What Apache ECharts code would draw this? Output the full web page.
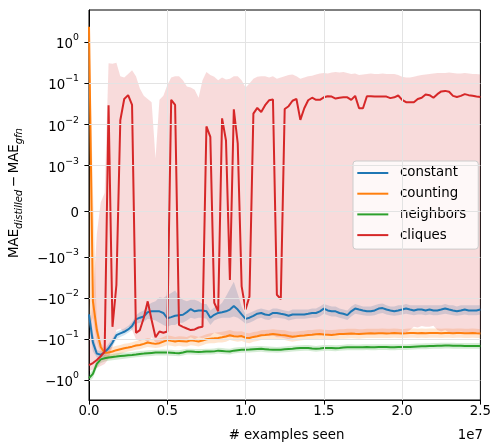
<!DOCTYPE html>
<html><head><meta charset="utf-8">
<script src="https://cdn.jsdelivr.net/npm/echarts@6/dist/echarts.min.js"></script>
<style>html,body{margin:0;padding:0;background:#fff}#c{width:494px;height:442px}</style>
</head><body><div id="c"></div>
<script>
// x: examples seen, in millions
const examplesSeenM = [
0,0.25,0.5,0.75,1,1.25,1.5,1.75,2,2.25,2.5,2.75,3,3.25,3.5,3.75,4,4.25,4.5,4.75,
5,5.25,5.5,5.75,6,6.25,6.5,6.75,7,7.25,7.5,7.75,8,8.25,8.5,8.75,9,9.25,9.5,9.75,
10,10.25,10.5,10.75,11,11.25,11.5,11.75,12,12.25,12.5,12.75,13,13.25,13.5,13.75,14,14.25,14.5,14.75,
15,15.25,15.5,15.75,16,16.25,16.5,16.75,17,17.25,17.5,17.75,18,18.25,18.5,18.75,19,19.25,19.5,19.75,
20,20.25,20.5,20.75,21,21.25,21.5,21.75,22,22.25,22.5,22.75,23,23.25,23.5,23.75,24,24.25,24.5,24.75,25];

const constant = [
-0.025,-0.12,-0.225,-0.24,-0.21,-0.166,-0.12,-0.08,-0.072,-0.066,
-0.058,-0.048,-0.033,-0.03,-0.028,-0.022,-0.021,-0.021,-0.021,-0.023,
-0.031,-0.029,-0.027,-0.026,-0.0255,-0.022,-0.0185,-0.021,-0.02,-0.02,
-0.021,-0.03,-0.0255,-0.023,-0.022,-0.021,-0.019,-0.0155,-0.019,-0.025,
-0.032,-0.03,-0.027,-0.024,-0.023,-0.025,-0.026,-0.023,-0.023,-0.024,
-0.025,-0.027,-0.025,-0.025,-0.025,-0.025,-0.024,-0.023,-0.023,-0.021,
-0.018,-0.02,-0.021,-0.021,-0.023,-0.024,-0.026,-0.021,-0.018,-0.019,
-0.02,-0.021,-0.021,-0.02,-0.018,-0.0175,-0.019,-0.02,-0.021,-0.02,
-0.019,-0.018,-0.019,-0.02,-0.019,-0.019,-0.02,-0.019,-0.02,-0.02,
-0.019,-0.018,-0.019,-0.02,-0.021,-0.02,-0.019,-0.02,-0.02,-0.02,
-0.019];
const constantHi = [
-0.012,-0.07,-0.18,-0.2,-0.17,-0.13,-0.095,-0.066,-0.06,-0.055,
-0.048,-0.038,-0.026,-0.022,-0.02,-0.015,-0.013,-0.012,-0.0095,-0.01,
-0.0085,-0.0075,-0.0065,-0.009,-0.011,-0.012,-0.011,-0.011,-0.012,-0.014,
-0.014,-0.02,-0.017,-0.016,-0.013,-0.009,-0.006,-0.004,-0.008,-0.016,
-0.025,-0.023,-0.021,-0.019,-0.018,-0.019,-0.02,-0.018,-0.018,-0.019,
-0.02,-0.021,-0.019,-0.019,-0.019,-0.019,-0.019,-0.018,-0.018,-0.016,
-0.014,-0.015,-0.016,-0.016,-0.018,-0.019,-0.02,-0.016,-0.014,-0.015,
-0.016,-0.016,-0.016,-0.015,-0.014,-0.0135,-0.015,-0.016,-0.016,-0.015,
-0.015,-0.014,-0.015,-0.015,-0.015,-0.015,-0.015,-0.015,-0.015,-0.015,
-0.015,-0.014,-0.015,-0.015,-0.016,-0.015,-0.015,-0.015,-0.015,-0.015,
-0.015];
const constantLo = [
-0.045,-0.2,-0.28,-0.29,-0.26,-0.21,-0.15,-0.1,-0.088,-0.08,
-0.07,-0.06,-0.042,-0.04,-0.038,-0.032,-0.033,-0.035,-0.04,-0.045,
-0.05,-0.045,-0.045,-0.04,-0.04,-0.035,-0.03,-0.032,-0.03,-0.03,
-0.032,-0.045,-0.035,-0.032,-0.03,-0.03,-0.03,-0.028,-0.03,-0.035,
-0.042,-0.04,-0.036,-0.032,-0.03,-0.033,-0.034,-0.03,-0.03,-0.031,
-0.032,-0.035,-0.033,-0.032,-0.032,-0.032,-0.031,-0.03,-0.03,-0.028,
-0.024,-0.026,-0.028,-0.028,-0.03,-0.032,-0.034,-0.028,-0.024,-0.025,
-0.026,-0.027,-0.027,-0.026,-0.024,-0.023,-0.025,-0.026,-0.027,-0.026,
-0.025,-0.024,-0.025,-0.026,-0.025,-0.025,-0.026,-0.025,-0.026,-0.026,
-0.025,-0.024,-0.025,-0.026,-0.027,-0.026,-0.025,-0.026,-0.026,-0.026,
-0.025];

const counting = [
2.4,-0.012,-0.06,-0.155,-0.215,-0.21,-0.2,-0.185,-0.175,-0.166,
-0.16,-0.152,-0.142,-0.138,-0.13,-0.12,-0.125,-0.13,-0.125,-0.115,
-0.105,-0.11,-0.114,-0.11,-0.112,-0.114,-0.106,-0.11,-0.114,-0.108,
-0.1,-0.097,-0.095,-0.093,-0.09,-0.086,-0.08,-0.085,-0.086,-0.084,
-0.092,-0.094,-0.088,-0.085,-0.08,-0.079,-0.077,-0.075,-0.077,-0.079,
-0.08,-0.084,-0.087,-0.085,-0.083,-0.081,-0.079,-0.078,-0.076,-0.075,
-0.077,-0.078,-0.079,-0.077,-0.075,-0.075,-0.074,-0.073,-0.074,-0.075,
-0.074,-0.073,-0.072,-0.073,-0.072,-0.072,-0.073,-0.072,-0.071,-0.072,
-0.073,-0.072,-0.071,-0.071,-0.072,-0.071,-0.072,-0.071,-0.071,-0.071,
-0.072,-0.071,-0.071,-0.072,-0.071,-0.071,-0.072,-0.072,-0.071,-0.072,
-0.073];
const countingHi = [
5,0.0005,-0.035,-0.12,-0.17,-0.165,-0.155,-0.145,-0.138,-0.13,
-0.125,-0.118,-0.11,-0.105,-0.1,-0.093,-0.098,-0.1,-0.096,-0.088,
-0.08,-0.084,-0.088,-0.085,-0.086,-0.088,-0.08,-0.083,-0.088,-0.082,
-0.076,-0.072,-0.07,-0.068,-0.066,-0.063,-0.06,-0.064,-0.065,-0.064,
-0.07,-0.072,-0.067,-0.065,-0.061,-0.06,-0.059,-0.057,-0.059,-0.06,
-0.061,-0.064,-0.066,-0.065,-0.063,-0.062,-0.06,-0.06,-0.058,-0.057,
-0.059,-0.06,-0.06,-0.059,-0.057,-0.057,-0.056,-0.056,-0.056,-0.057,
-0.057,-0.056,-0.056,-0.056,-0.056,-0.055,-0.056,-0.056,-0.055,-0.056,
-0.057,-0.056,-0.055,-0.055,-0.056,-0.055,-0.056,-0.055,-0.055,-0.055,
-0.056,-0.055,-0.055,-0.056,-0.055,-0.055,-0.056,-0.056,-0.055,-0.056,
-0.057];
const countingLo = [
-0.05,-0.03,-0.12,-0.22,-0.27,-0.3,-0.3,-0.26,-0.23,-0.21,
-0.2,-0.19,-0.18,-0.175,-0.165,-0.155,-0.16,-0.165,-0.16,-0.15,
-0.14,-0.145,-0.15,-0.145,-0.15,-0.15,-0.14,-0.145,-0.15,-0.14,
-0.13,-0.125,-0.125,-0.12,-0.12,-0.115,-0.105,-0.11,-0.115,-0.11,
-0.12,-0.125,-0.115,-0.11,-0.105,-0.105,-0.1,-0.1,-0.1,-0.105,
-0.105,-0.11,-0.115,-0.11,-0.108,-0.105,-0.103,-0.1,-0.1,-0.097,
-0.1,-0.1,-0.1,-0.1,-0.097,-0.097,-0.096,-0.095,-0.096,-0.097,
-0.095,-0.094,-0.093,-0.094,-0.093,-0.093,-0.094,-0.093,-0.092,-0.093,
-0.094,-0.093,-0.092,-0.092,-0.093,-0.092,-0.093,-0.092,-0.092,-0.092,
-0.093,-0.092,-0.092,-0.093,-0.092,-0.092,-0.093,-0.093,-0.092,-0.093,
-0.094];

const neighbors = [
-0.89,-0.7,-0.4,-0.31,-0.29,-0.28,-0.272,-0.265,-0.258,-0.252,
-0.247,-0.242,-0.235,-0.228,-0.224,-0.22,-0.216,-0.212,-0.212,-0.21,
-0.212,-0.214,-0.218,-0.22,-0.21,-0.2,-0.2,-0.203,-0.204,-0.203,
-0.2,-0.2,-0.198,-0.19,-0.193,-0.198,-0.2,-0.19,-0.185,-0.182,
-0.18,-0.178,-0.175,-0.173,-0.172,-0.175,-0.178,-0.18,-0.182,-0.18,
-0.176,-0.173,-0.17,-0.167,-0.165,-0.163,-0.163,-0.168,-0.172,-0.168,
-0.164,-0.163,-0.164,-0.166,-0.163,-0.16,-0.157,-0.157,-0.158,-0.158,
-0.157,-0.156,-0.157,-0.157,-0.156,-0.155,-0.156,-0.157,-0.157,-0.156,
-0.155,-0.155,-0.154,-0.152,-0.15,-0.149,-0.148,-0.147,-0.146,-0.145,
-0.144,-0.143,-0.143,-0.144,-0.145,-0.145,-0.146,-0.146,-0.146,-0.146,
-0.146];
const neighborsHi = [
-0.72,-0.55,-0.33,-0.26,-0.245,-0.235,-0.228,-0.22,-0.215,-0.21,
-0.21,-0.206,-0.2,-0.194,-0.19,-0.187,-0.184,-0.18,-0.18,-0.179,
-0.18,-0.182,-0.185,-0.187,-0.179,-0.17,-0.17,-0.173,-0.173,-0.173,
-0.17,-0.17,-0.168,-0.162,-0.164,-0.168,-0.17,-0.162,-0.157,-0.155,
-0.153,-0.151,-0.149,-0.147,-0.146,-0.149,-0.151,-0.153,-0.155,-0.153,
-0.15,-0.147,-0.145,-0.142,-0.14,-0.139,-0.139,-0.143,-0.146,-0.143,
-0.139,-0.139,-0.139,-0.141,-0.139,-0.136,-0.133,-0.133,-0.134,-0.134,
-0.133,-0.133,-0.133,-0.133,-0.133,-0.132,-0.133,-0.133,-0.133,-0.133,
-0.132,-0.132,-0.131,-0.129,-0.128,-0.127,-0.126,-0.125,-0.124,-0.123,
-0.122,-0.122,-0.122,-0.122,-0.123,-0.123,-0.124,-0.124,-0.124,-0.124,
-0.124];
const neighborsLo = [
-1.1,-0.88,-0.5,-0.38,-0.35,-0.335,-0.325,-0.315,-0.308,-0.3,
-0.29,-0.285,-0.277,-0.27,-0.264,-0.26,-0.255,-0.25,-0.25,-0.248,
-0.25,-0.253,-0.257,-0.26,-0.248,-0.236,-0.236,-0.24,-0.241,-0.24,
-0.236,-0.236,-0.234,-0.224,-0.228,-0.234,-0.236,-0.224,-0.218,-0.215,
-0.212,-0.21,-0.207,-0.204,-0.203,-0.207,-0.21,-0.212,-0.215,-0.212,
-0.208,-0.204,-0.2,-0.197,-0.195,-0.192,-0.192,-0.198,-0.203,-0.198,
-0.194,-0.192,-0.194,-0.196,-0.192,-0.189,-0.185,-0.185,-0.186,-0.186,
-0.185,-0.184,-0.185,-0.185,-0.184,-0.183,-0.184,-0.185,-0.185,-0.184,
-0.183,-0.183,-0.182,-0.179,-0.177,-0.176,-0.175,-0.173,-0.172,-0.171,
-0.17,-0.169,-0.169,-0.17,-0.171,-0.171,-0.172,-0.172,-0.172,-0.172,
-0.172];

const cliques = [
-0.43,-0.38,-0.32,-0.26,-0.2,0.0296,-0.05,-0.0048,0.0127,0.042,
0.052,0.03,-0.07,-0.06,-0.03,-0.012,-0.034,-0.09,-0.065,-0.07,
-0.065,0.04,0.03,-0.045,-0.05,-0.055,-0.06,-0.058,-0.052,-0.05,
0.009,0.005,-0.013,-0.021,0.0142,0.0041,-0.0036,0.0236,0.0035,-0.0052,
-0.019,-0.0091,0.0185,0.0254,0.0203,0.0296,0.039,0.0407,-0.0083,-0.0106,
0.024,0.028,0.038,0.042,0.013,0.025,0.039,0.045,0.04,0.04,
0.046,0.049,0.048,0.043,0.045,0.046,0.046,0.04,0.05,0.025,
0.025,0.049,0.049,0.048,0.048,0.048,0.048,0.044,0.046,0.051,
0.04,0.035,0.035,0.035,0.042,0.045,0.054,0.052,0.045,0.055,
0.064,0.066,0.063,0.05,0.047,0.05,0.055,0.052,0.05,0.048,
0.047];
const cliquesHi = [
-0.1,-0.01,-0.0005,0.0002,0.0004,0.31,0.3,0.32,0.15,0.14,
0.17,0.21,0.15,0.075,0.05,0.042,0.035,0.0015,0.04,0.05,
0.09,0.14,0.15,0.15,0.12,0.085,0.08,0.07,0.045,0.12,
0.19,0.16,0.145,0.12,0.14,0.125,0.13,0.15,0.15,0.12,
0.08,0.1,0.13,0.145,0.15,0.15,0.14,0.15,0.13,0.14,
0.15,0.16,0.165,0.15,0.13,0.14,0.15,0.155,0.165,0.175,
0.18,0.175,0.185,0.19,0.185,0.19,0.18,0.17,0.175,0.16,
0.165,0.17,0.175,0.17,0.17,0.175,0.17,0.17,0.17,0.16,
0.145,0.14,0.14,0.145,0.155,0.16,0.165,0.17,0.175,0.18,
0.18,0.18,0.185,0.18,0.175,0.175,0.18,0.175,0.17,0.17,
0.165];
const cliquesLo = [
-0.6,-0.55,-0.5,-0.45,-0.4,-0.3,-0.15,-0.06,-0.055,-0.07,
-0.05,-0.06,-0.1,-0.11,-0.1,-0.12,-0.09,-0.12,-0.13,-0.11,
-0.1,-0.1,-0.12,-0.1,-0.11,-0.1,-0.09,-0.1,-0.09,-0.095,
-0.09,-0.085,-0.07,-0.075,-0.08,-0.085,-0.09,-0.085,-0.08,-0.09,
-0.1,-0.095,-0.09,-0.085,-0.085,-0.08,-0.085,-0.08,-0.09,-0.09,
-0.095,-0.1,-0.095,-0.09,-0.085,-0.085,-0.08,-0.08,-0.078,-0.08,
-0.08,-0.078,-0.08,-0.078,-0.075,-0.078,-0.08,-0.078,-0.075,-0.076,
-0.075,-0.074,-0.07,-0.072,-0.075,-0.074,-0.073,-0.07,-0.068,-0.07,
-0.072,-0.07,-0.06,-0.05,-0.052,-0.048,-0.05,-0.05,-0.047,-0.06,
-0.065,-0.06,-0.07,-0.072,-0.07,-0.065,-0.068,-0.07,-0.072,-0.07,
-0.072];

const seriesNames = ['constant', 'counting', 'neighbors', 'cliques'];
const yTickValues = [-1, -0.1, -0.01, -0.001, 0, 0.001, 0.01, 0.1, 1];
const yTickLabels = ['−10{s|0}','−10{s|−1}','−10{s|−2}','−10{s|−3}','0','10{s|−3}','10{s|−2}','10{s|−1}','10{s|0}'];
const xTickValues = [0, 5e6, 10e6, 15e6, 20e6, 25e6];

// symmetric-log transform (linthresh 1e-3, linscale 1, base 10)
const LINTHRESH = 1e-3, LINSCALE = 1 / (1 - 1 / 10);
function symlog(v) {
  const a = Math.abs(v);
  if (a <= LINTHRESH) return v / LINTHRESH * LINSCALE;
  return Math.sign(v) * (LINSCALE + Math.log10(a / LINTHRESH));
}
const Y_MIN = -4.591, Y_MAX = 4.899;
const clampT = t => Math.max(Y_MIN, Math.min(Y_MAX, t));
const xs = examplesSeenM.map(m => m * 1e6);
const yTickT = yTickValues.map(symlog);

const FONT = 'DejaVu Sans';
const FS = 13.33;
const colors = {constant:'#1f77b4', counting:'#ff7f0e', neighbors:'#2ca02c', cliques:'#d62728'};
const bandFill = {constant:'rgba(31,119,180,0.2)', counting:'rgba(255,127,14,0.2)', neighbors:'rgba(44,160,44,0.2)', cliques:'rgba(214,39,40,0.17)'};

function band(name, lo, hi) {
  const loT = lo.map(v => clampT(symlog(v))), hiT = hi.map(v => clampT(symlog(v)));
  return {
    name: name + '_band', type: 'custom', silent: true, z: 1, clip: true, animation: false,
    data: xs.map((x, i) => [x, loT[i], hiT[i]]), encode: {x: 0, y: [1, 2]},
    renderItem: (params, api) => {
      if (params.dataIndex !== 0) return null;
      const pts = [];
      for (let i = 0; i < xs.length; i++) pts.push(api.coord([xs[i], hiT[i]]));
      for (let i = xs.length - 1; i >= 0; i--) pts.push(api.coord([xs[i], loT[i]]));
      return {type: 'polygon', shape: {points: pts}, style: {fill: bandFill[name], stroke: null}};
    }
  };
}
function line(name, vals, z) {
  return {name: name, type: 'line', symbol: 'none', showSymbol: false, z: z, clip: true,
    lineStyle: {color: colors[name], width: 2}, itemStyle: {color: colors[name]},
    data: xs.map((x, i) => [x, symlog(vals[i])]), animation: false};
}

const gridSeries = {
  name: 'grid', type: 'line', data: [], silent: true, z: 2, animation: false,
  markLine: {silent: true, symbol: ['none','none'], label: {show: false}, animation: false,
    lineStyle: {color: '#e3e3e3', width: 1, type: 'solid'},
    data: yTickT.map(t => ({yAxis: t})).concat(xTickValues.slice(1, -1).map(v => ({xAxis: v})))}
};

const series = [
  band('constant', constantLo, constantHi),
  band('counting', countingLo, countingHi),
  band('neighbors', neighborsLo, neighborsHi),
  band('cliques', cliquesLo, cliquesHi),
  gridSeries,
  line('constant', constant, 3), line('counting', counting, 3),
  line('neighbors', neighbors, 3), line('cliques', cliques, 4)
];

const chart = echarts.init(document.getElementById('c'), null, {renderer: 'canvas'});
chart.setOption({
  animation: false,
  backgroundColor: '#fff',
  textStyle: {fontFamily: FONT},
  grid: {left: 89, right: 11, top: 10, bottom: 42, show: true, borderColor: '#000', borderWidth: 1, backgroundColor: 'transparent'},
  xAxis: {
    type: 'value', min: 0, max: 2.5e7, interval: 5e6,
    axisLine: {show: true, onZero: false, lineStyle: {color: '#000', width: 1}},
    axisTick: {show: true, length: 4.6, lineStyle: {color: '#000', width: 1}},
    axisLabel: {color: '#000', fontSize: FS, fontFamily: FONT, margin: 5,
      formatter: v => (v / 1e7).toFixed(1)},
    splitLine: {show: false}
  },
  yAxis: {
    type: 'value', min: Y_MIN, max: Y_MAX,
    axisLine: {show: true, onZero: false, lineStyle: {color: '#000', width: 1}},
    axisTick: {show: true, length: 4.6, customValues: yTickT, lineStyle: {color: '#000', width: 1}},
    axisLabel: {color: '#000', fontSize: FS, fontFamily: FONT, margin: 10, customValues: yTickT,
      formatter: v => {
        let best = 0;
        for (let i = 1; i < yTickT.length; i++) if (Math.abs(yTickT[i] - v) < Math.abs(yTickT[best] - v)) best = i;
        const lab = yTickLabels[best];
        const k = lab.indexOf('{');
        if (k < 0) return '{b|' + lab + '}';
        return '{b|' + lab.slice(0, k) + '}' + lab.slice(k);
      },
      rich: {
        b: {fontSize: FS, fontFamily: FONT, color: '#000', lineHeight: 18, verticalAlign: 'bottom'},
        s: {fontSize: 9.33, fontFamily: FONT, color: '#000', lineHeight: 11, verticalAlign: 'top'}
      }
    },
    splitLine: {show: false}
  },
  legend: {
    data: seriesNames,
    orient: 'vertical', left: 353, top: 161,
    icon: 'rect', itemWidth: 31, itemHeight: 2, itemGap: 5.7,
    padding: [4.5, 12, 6.5, 4.3],
    backgroundColor: 'rgba(255,255,255,0.8)', borderColor: '#cccccc', borderWidth: 1, borderRadius: 3,
    formatter: name => '\u2002' + name,
    textStyle: {fontSize: FS, fontFamily: FONT, color: '#000', lineHeight: 15, width: 70},
    selectedMode: false
  },
  graphic: [
    {type: 'text', x: 286.5, y: 436, silent: true,
     style: {text: '# examples seen', fontSize: FS, fontFamily: FONT, fill: '#000', align: 'center', verticalAlign: 'middle'}},
    {type: 'text', x: 483, y: 436, silent: true,
     style: {text: '1e7', fontSize: FS, fontFamily: FONT, fill: '#000', align: 'right', verticalAlign: 'middle'}},
    {type: 'text', x: 16, y: 193, rotation: Math.PI / 2, silent: true,
     style: {text: '{m|MAE}{s|distilled}{m|\u2009−\u2009MAE}{s|gfn}', align: 'center', verticalAlign: 'middle',
       rich: {
         m: {fontSize: FS, fontFamily: FONT, fill: '#000', lineHeight: 16, verticalAlign: 'top'},
         s: {fontSize: 10, fontFamily: FONT, fontStyle: 'italic', fill: '#000', lineHeight: 10, padding: [8, 0, 0, 0], verticalAlign: 'bottom'}
       }}}
  ],
  series: series
});
</script></body></html>
